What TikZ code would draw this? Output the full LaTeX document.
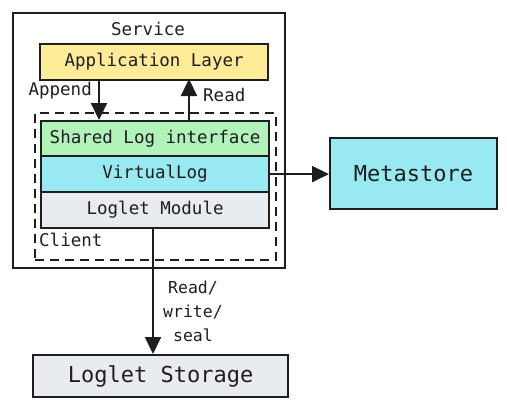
\documentclass[tikz,border=0pt]{standalone}
\usepackage{fontspec}
\setmonofont{DejaVu Sans Mono}
\usetikzlibrary{arrows.meta}
\definecolor{appyellow}{HTML}{FFEC99}
\definecolor{shgreen}{HTML}{B2F2BB}
\definecolor{vcyan}{HTML}{99E9F2}
\definecolor{lgray}{HTML}{E9ECEF}
\definecolor{ink}{HTML}{1E1E1E}
\begin{document}
\begin{tikzpicture}[x=1pt,y=-1pt,
  every node/.style={font=\ttfamily\fontsize{17.5}{20}\selectfont, text=ink},
  blk/.style={draw=ink, line width=2.2pt, minimum height=36pt, minimum width=228pt, inner sep=0pt, anchor=north west},
  big/.style={font=\ttfamily\fontsize{22}{25}\selectfont},
  arr/.style={draw=ink, line width=2.2pt, -{Triangle[length=17pt,width=16pt]}},
  lbl/.style={inner sep=0pt}]
\useasboundingbox (0,0) rectangle (507,408);
% service box
\node[draw=ink, line width=2pt, minimum width=272pt, minimum height=255pt, anchor=north west, inner sep=0pt] (service) at (12,12) {};
\node[lbl] (servicelbl) at (148,29) {Service};
% client dashed box
\node[draw=ink, line width=2.4pt, dash pattern=on 9pt off 6pt, minimum width=241pt, minimum height=147pt, anchor=north west, inner sep=0pt] (client) at (33.5,112) {};
\node[lbl, anchor=west] (clientlbl) at (39,240) {Client};
% app layer
\node[blk, fill=appyellow] (app) at (39,43) {Application Layer};
% stack
\node[blk, fill=shgreen, minimum height=35pt] (shared) at (40,120) {Shared Log interface};
\node[blk, fill=vcyan, minimum height=36pt] (virt) at (40,155) {VirtualLog};
\node[blk, fill=lgray, minimum height=36pt] (loglet) at (40,191) {Loglet Module};
% metastore
\node[blk, fill=vcyan, big, minimum width=167pt, minimum height=71pt] (meta) at (329,137) {Metastore};
% storage
\node[blk, fill=lgray, big, minimum width=255pt, minimum height=42pt] (storage) at (32,354) {Loglet Storage};
% arrows
\coordinate (appendtop) at (99,79);
\coordinate (appendbot) at (99,120);
\draw[arr] (appendtop) -- (appendbot);
\node[lbl, anchor=east] (appendlbl) at (92,91) {Append};
\coordinate (readbot) at (189,120);
\coordinate (readtop) at (189,79);
\draw[arr] (readbot) -- (readtop);
\node[lbl, anchor=west] (readlbl) at (203,95) {Read};
\draw[arr] (virt.east) -- (virt.east -| meta.west);
\coordinate (lmbot) at (153,227);
\coordinate (sttop) at (153,354);
\draw[arr] (lmbot) -- (sttop);
\node[lbl, align=center, font=\ttfamily\fontsize{16.5}{24}\selectfont] (rwslbl) at (193,311) {Read/\\write/\\seal};
\end{tikzpicture}
\end{document}
